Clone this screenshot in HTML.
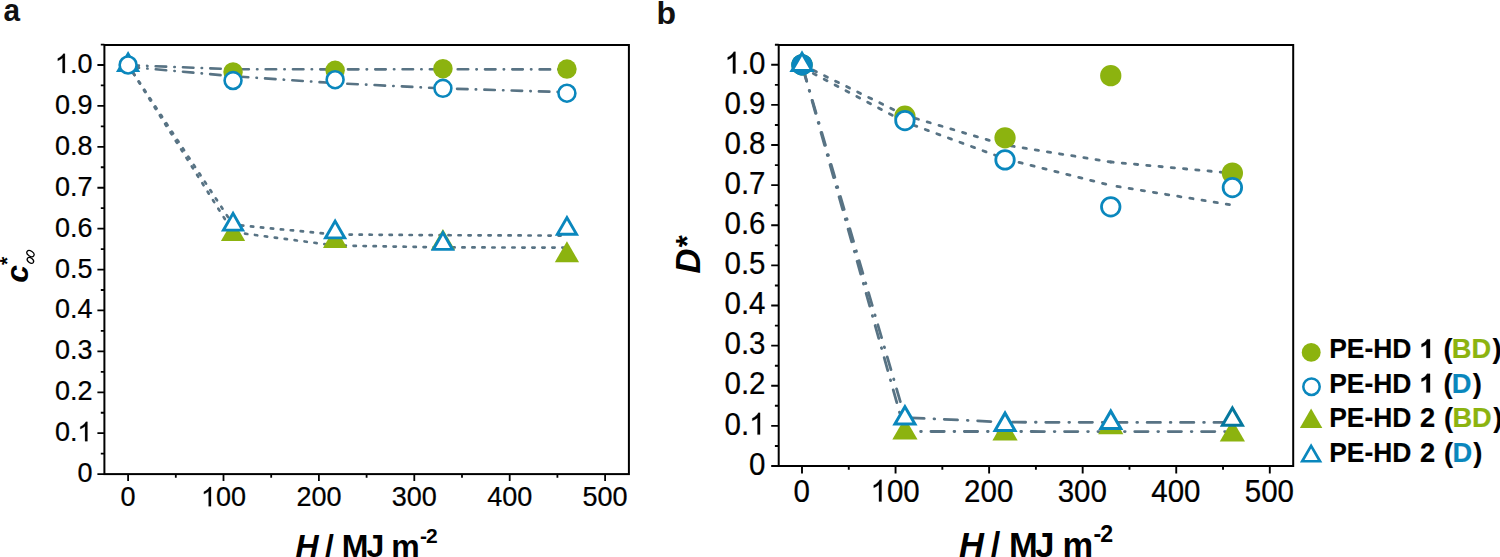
<!DOCTYPE html><html><head><meta charset="utf-8"><style>html,body{margin:0;padding:0;background:#fff;overflow:hidden}svg{display:block}</style></head><body>
<svg width="1500" height="557" viewBox="0 0 1500 557">
<rect width="1500" height="557" fill="#fff"/>
<rect x="104.4" y="45" width="524.5" height="429.1" fill="none" stroke="#000" stroke-width="2"/>
<path d="M128.1 474.1V481.1M175.8 474.1V477.7M223.5 474.1V481.1M271.2 474.1V477.7M318.9 474.1V481.1M366.6 474.1V477.7M414.3 474.1V481.1M462 474.1V477.7M509.7 474.1V481.1M557.4 474.1V477.7M605.1 474.1V481.1M104.4 474.1H97.4M104.4 453.65H100.8M104.4 433.19H97.4M104.4 412.74H100.8M104.4 392.28H97.4M104.4 371.83H100.8M104.4 351.37H97.4M104.4 330.91H100.8M104.4 310.46H97.4M104.4 290H100.8M104.4 269.55H97.4M104.4 249.09H100.8M104.4 228.64H97.4M104.4 208.19H100.8M104.4 187.73H97.4M104.4 167.27H100.8M104.4 146.82H97.4M104.4 126.36H100.8M104.4 105.91H97.4M104.4 85.45H100.8M104.4 65H97.4M104.4 44.54H100.8" stroke="#000" stroke-width="1.8" fill="none"/>
<g transform="translate(92.4 482.1) scale(1 1.04)" font-family="Liberation Sans" font-size="27" font-weight="normal" fill="#000" stroke="#000" stroke-width="0.24" stroke-linejoin="round"><text x="-15.02" y="0">0</text></g>
<g transform="translate(92.4 441.19) scale(1 1.04)" font-family="Liberation Sans" font-size="27" font-weight="normal" fill="#000" stroke="#000" stroke-width="0.24" stroke-linejoin="round"><text x="-37.53" y="0">0. </text><path d="M-4.96 0L-7.33 0L-7.33 -14.47Q-8.19 -13.69 -9.58 -12.91Q-10.98 -12.13 -12.1 -11.74L-12.1 -13.93Q-10.11 -14.83 -8.62 -16.1Q-7.13 -17.38 -6.51 -18.58L-4.96 -18.58Z"/></g>
<g transform="translate(92.4 400.28) scale(1 1.04)" font-family="Liberation Sans" font-size="27" font-weight="normal" fill="#000" stroke="#000" stroke-width="0.24" stroke-linejoin="round"><text x="-37.53" y="0">0.2</text></g>
<g transform="translate(92.4 359.37) scale(1 1.04)" font-family="Liberation Sans" font-size="27" font-weight="normal" fill="#000" stroke="#000" stroke-width="0.24" stroke-linejoin="round"><text x="-37.53" y="0">0.3</text></g>
<g transform="translate(92.4 318.46) scale(1 1.04)" font-family="Liberation Sans" font-size="27" font-weight="normal" fill="#000" stroke="#000" stroke-width="0.24" stroke-linejoin="round"><text x="-37.53" y="0">0.4</text></g>
<g transform="translate(92.4 277.55) scale(1 1.04)" font-family="Liberation Sans" font-size="27" font-weight="normal" fill="#000" stroke="#000" stroke-width="0.24" stroke-linejoin="round"><text x="-37.53" y="0">0.5</text></g>
<g transform="translate(92.4 236.64) scale(1 1.04)" font-family="Liberation Sans" font-size="27" font-weight="normal" fill="#000" stroke="#000" stroke-width="0.24" stroke-linejoin="round"><text x="-37.53" y="0">0.6</text></g>
<g transform="translate(92.4 195.73) scale(1 1.04)" font-family="Liberation Sans" font-size="27" font-weight="normal" fill="#000" stroke="#000" stroke-width="0.24" stroke-linejoin="round"><text x="-37.53" y="0">0.7</text></g>
<g transform="translate(92.4 154.82) scale(1 1.04)" font-family="Liberation Sans" font-size="27" font-weight="normal" fill="#000" stroke="#000" stroke-width="0.24" stroke-linejoin="round"><text x="-37.53" y="0">0.8</text></g>
<g transform="translate(92.4 113.91) scale(1 1.04)" font-family="Liberation Sans" font-size="27" font-weight="normal" fill="#000" stroke="#000" stroke-width="0.24" stroke-linejoin="round"><text x="-37.53" y="0">0.9</text></g>
<g transform="translate(92.4 73) scale(1 1.04)" font-family="Liberation Sans" font-size="27" font-weight="normal" fill="#000" stroke="#000" stroke-width="0.24" stroke-linejoin="round"><text x="-37.53" y="0"> .0</text><path d="M-27.47 0L-29.85 0L-29.85 -14.47Q-30.7 -13.69 -32.1 -12.91Q-33.5 -12.13 -34.62 -11.74L-34.62 -13.93Q-32.63 -14.83 -31.14 -16.1Q-29.65 -17.38 -29.03 -18.58L-27.47 -18.58Z"/></g>
<g transform="translate(128.1 506.3) scale(1 1.04)" font-family="Liberation Sans" font-size="27" font-weight="normal" fill="#000" stroke="#000" stroke-width="0.24" stroke-linejoin="round"><text x="-7.51" y="0">0</text></g>
<g transform="translate(223.5 506.3) scale(1 1.04)" font-family="Liberation Sans" font-size="27" font-weight="normal" fill="#000" stroke="#000" stroke-width="0.24" stroke-linejoin="round"><text x="-22.52" y="0"> 00</text><path d="M-12.47 0L-14.84 0L-14.84 -14.47Q-15.7 -13.69 -17.09 -12.91Q-18.49 -12.13 -19.61 -11.74L-19.61 -13.93Q-17.62 -14.83 -16.13 -16.1Q-14.64 -17.38 -14.02 -18.58L-12.47 -18.58Z"/></g>
<g transform="translate(318.9 506.3) scale(1 1.04)" font-family="Liberation Sans" font-size="27" font-weight="normal" fill="#000" stroke="#000" stroke-width="0.24" stroke-linejoin="round"><text x="-22.52" y="0">200</text></g>
<g transform="translate(414.3 506.3) scale(1 1.04)" font-family="Liberation Sans" font-size="27" font-weight="normal" fill="#000" stroke="#000" stroke-width="0.24" stroke-linejoin="round"><text x="-22.52" y="0">300</text></g>
<g transform="translate(509.7 506.3) scale(1 1.04)" font-family="Liberation Sans" font-size="27" font-weight="normal" fill="#000" stroke="#000" stroke-width="0.24" stroke-linejoin="round"><text x="-22.52" y="0">400</text></g>
<g transform="translate(605.1 506.3) scale(1 1.04)" font-family="Liberation Sans" font-size="27" font-weight="normal" fill="#000" stroke="#000" stroke-width="0.24" stroke-linejoin="round"><text x="-22.52" y="0">500</text></g>
<path d="M128.1 65.2L233.04 69.2" fill="none" stroke="#587384" stroke-width="2.6" stroke-dasharray="10.5 8.2 0.4 8.2" stroke-dashoffset="27" stroke-linecap="round" stroke-linejoin="round"/>
<path d="M233.04 69.2L335.12 69.35" fill="none" stroke="#587384" stroke-width="2.6" stroke-dasharray="10.5 8.2 0.4 8.2" stroke-dashoffset="21.99" stroke-linecap="round" stroke-linejoin="round"/>
<path d="M335.12 69.35L442.92 69.3" fill="none" stroke="#587384" stroke-width="2.6" stroke-dasharray="10.5 8.2 0.4 8.2" stroke-dashoffset="14.47" stroke-linecap="round" stroke-linejoin="round"/>
<path d="M442.92 69.3L566.94 69.4" fill="none" stroke="#587384" stroke-width="2.6" stroke-dasharray="10.5 8.2 0.4 8.2" stroke-dashoffset="12.52" stroke-linecap="round" stroke-linejoin="round"/>
<path d="M128.1 66.8L233.04 76.2" fill="none" stroke="#587384" stroke-width="2.6" stroke-dasharray="10.5 8.2 0.4 8.2" stroke-dashoffset="26.83" stroke-linecap="round" stroke-linejoin="round"/>
<path d="M233.04 76.2L335.12 83.15" fill="none" stroke="#587384" stroke-width="2.6" stroke-dasharray="10.5 8.2 0.4 8.2" stroke-dashoffset="22.51" stroke-linecap="round" stroke-linejoin="round"/>
<path d="M335.12 83.15L442.92 88.4" fill="none" stroke="#587384" stroke-width="2.6" stroke-dasharray="10.5 8.2 0.4 8.2" stroke-dashoffset="15.11" stroke-linecap="round" stroke-linejoin="round"/>
<path d="M442.92 88.4L566.94 92.2" fill="none" stroke="#587384" stroke-width="2.6" stroke-dasharray="10.5 8.2 0.4 8.2" stroke-dashoffset="13.15" stroke-linecap="round" stroke-linejoin="round"/>
<path d="M128.1 65L233.04 224.7" fill="none" stroke="#587384" stroke-width="2.7" stroke-dasharray="2.3 7.7" stroke-dashoffset="0.35" stroke-linecap="round" stroke-linejoin="round"/>
<path d="M233.04 224.7L335.12 234.5" fill="none" stroke="#587384" stroke-width="2.7" stroke-dasharray="2.3 7.7" stroke-dashoffset="2.01" stroke-linecap="round" stroke-linejoin="round"/>
<path d="M335.12 234.5L442.92 235.2" fill="none" stroke="#587384" stroke-width="2.7" stroke-dasharray="2.3 7.7" stroke-dashoffset="5.57" stroke-linecap="round" stroke-linejoin="round"/>
<path d="M442.92 235.2L566.94 235.6" fill="none" stroke="#587384" stroke-width="2.7" stroke-dasharray="2.3 7.7" stroke-dashoffset="4.47" stroke-linecap="round" stroke-linejoin="round"/>
<path d="M128.1 65L233.04 232.1" fill="none" stroke="#587384" stroke-width="2.7" stroke-dasharray="2.3 7.7" stroke-dashoffset="0.35" stroke-linecap="round" stroke-linejoin="round"/>
<path d="M233.04 232.1L335.12 245.5" fill="none" stroke="#587384" stroke-width="2.7" stroke-dasharray="2.3 7.7" stroke-dashoffset="7.91" stroke-linecap="round" stroke-linejoin="round"/>
<path d="M335.12 245.5L442.92 247.4" fill="none" stroke="#587384" stroke-width="2.7" stroke-dasharray="2.3 7.7" stroke-dashoffset="1.56" stroke-linecap="round" stroke-linejoin="round"/>
<path d="M442.92 247.4L566.94 247.6" fill="none" stroke="#587384" stroke-width="2.7" stroke-dasharray="2.3 7.7" stroke-dashoffset="0.57" stroke-linecap="round" stroke-linejoin="round"/>
<path d="M233.04 219.96L245.16 240.96L220.92 240.96Z" fill="#8cb30f"/>
<path d="M335.12 226.91L347.24 247.91L322.99 247.91Z" fill="#8cb30f"/>
<path d="M442.92 228.96L455.04 249.96L430.8 249.96Z" fill="#8cb30f"/>
<path d="M566.94 241.23L579.06 262.23L554.82 262.23Z" fill="#8cb30f"/>
<path d="M128.1 54.8L136.93 70.1L119.27 70.1Z" fill="#fff"/>
<path d="M128.1 51L140.22 72L115.98 72ZM128.1 56.8L135.2 69.1L121 69.1Z" fill="#0a87bd" fill-rule="evenodd"/>
<path d="M233.04 214.35L241.87 229.65L224.21 229.65Z" fill="#fff"/>
<path d="M233.04 210.55L245.16 231.55L220.92 231.55ZM233.04 216.35L240.14 228.65L225.94 228.65Z" fill="#0a87bd" fill-rule="evenodd"/>
<path d="M335.12 222.12L343.95 237.42L326.28 237.42Z" fill="#fff"/>
<path d="M335.12 218.32L347.24 239.32L322.99 239.32ZM335.12 224.12L342.22 236.42L328.02 236.42Z" fill="#0a87bd" fill-rule="evenodd"/>
<path d="M442.92 233.58L451.75 248.88L434.09 248.88Z" fill="#fff"/>
<path d="M442.92 229.78L455.04 250.78L430.8 250.78ZM442.92 235.58L450.02 247.88L435.82 247.88Z" fill="#0a87bd" fill-rule="evenodd"/>
<path d="M566.94 218.44L575.77 233.74L558.11 233.74Z" fill="#fff"/>
<path d="M566.94 214.64L579.06 235.64L554.82 235.64ZM566.94 220.44L574.04 232.74L559.84 232.74Z" fill="#0a87bd" fill-rule="evenodd"/>
<circle cx="233.04" cy="71.95" r="9.75" fill="#8cb30f"/>
<circle cx="335.12" cy="70.32" r="9.75" fill="#8cb30f"/>
<circle cx="442.92" cy="68.68" r="9.75" fill="#8cb30f"/>
<circle cx="566.94" cy="69.09" r="9.75" fill="#8cb30f"/>
<circle cx="128.1" cy="65" r="8.45" fill="#fff" stroke="#0a87bd" stroke-width="2.6"/>
<circle cx="233.04" cy="80.55" r="8.45" fill="#fff" stroke="#0a87bd" stroke-width="2.6"/>
<circle cx="335.12" cy="79.73" r="8.45" fill="#fff" stroke="#0a87bd" stroke-width="2.6"/>
<circle cx="442.92" cy="88.32" r="8.45" fill="#fff" stroke="#0a87bd" stroke-width="2.6"/>
<circle cx="566.94" cy="93.23" r="8.45" fill="#fff" stroke="#0a87bd" stroke-width="2.6"/>
<rect x="778.7" y="45" width="514.5" height="421" fill="none" stroke="#000" stroke-width="2"/>
<path d="M802 466V473.5M848.78 466V469.8M895.56 466V473.5M942.34 466V469.8M989.12 466V473.5M1035.9 466V469.8M1082.68 466V473.5M1129.46 466V469.8M1176.24 466V473.5M1223.02 466V469.8M1269.8 466V473.5M778.7 466H771.2M778.7 445.94H774.9M778.7 425.88H771.2M778.7 405.82H774.9M778.7 385.76H771.2M778.7 365.7H774.9M778.7 345.64H771.2M778.7 325.58H774.9M778.7 305.52H771.2M778.7 285.46H774.9M778.7 265.4H771.2M778.7 245.34H774.9M778.7 225.28H771.2M778.7 205.22H774.9M778.7 185.16H771.2M778.7 165.1H774.9M778.7 145.04H771.2M778.7 124.98H774.9M778.7 104.92H771.2M778.7 84.86H774.9M778.7 64.8H771.2M778.7 44.74H774.9" stroke="#000" stroke-width="1.9" fill="none"/>
<g transform="translate(765.5 474.7) scale(1 1.07)" font-family="Liberation Sans" font-size="29.5" font-weight="normal" fill="#000" stroke="#000" stroke-width="0.23" stroke-linejoin="round"><text x="-16.41" y="0">0</text></g>
<g transform="translate(765.5 434.58) scale(1 1.07)" font-family="Liberation Sans" font-size="29.5" font-weight="normal" fill="#000" stroke="#000" stroke-width="0.23" stroke-linejoin="round"><text x="-41.01" y="0">0. </text><path d="M-5.42 0L-8.01 0L-8.01 -15.81Q-8.95 -14.96 -10.47 -14.1Q-12 -13.25 -13.22 -12.82L-13.22 -15.22Q-11.05 -16.2 -9.42 -17.59Q-7.79 -18.99 -7.12 -20.3L-5.42 -20.3Z"/></g>
<g transform="translate(765.5 394.46) scale(1 1.07)" font-family="Liberation Sans" font-size="29.5" font-weight="normal" fill="#000" stroke="#000" stroke-width="0.23" stroke-linejoin="round"><text x="-41.01" y="0">0.2</text></g>
<g transform="translate(765.5 354.34) scale(1 1.07)" font-family="Liberation Sans" font-size="29.5" font-weight="normal" fill="#000" stroke="#000" stroke-width="0.23" stroke-linejoin="round"><text x="-41.01" y="0">0.3</text></g>
<g transform="translate(765.5 314.22) scale(1 1.07)" font-family="Liberation Sans" font-size="29.5" font-weight="normal" fill="#000" stroke="#000" stroke-width="0.23" stroke-linejoin="round"><text x="-41.01" y="0">0.4</text></g>
<g transform="translate(765.5 274.1) scale(1 1.07)" font-family="Liberation Sans" font-size="29.5" font-weight="normal" fill="#000" stroke="#000" stroke-width="0.23" stroke-linejoin="round"><text x="-41.01" y="0">0.5</text></g>
<g transform="translate(765.5 233.98) scale(1 1.07)" font-family="Liberation Sans" font-size="29.5" font-weight="normal" fill="#000" stroke="#000" stroke-width="0.23" stroke-linejoin="round"><text x="-41.01" y="0">0.6</text></g>
<g transform="translate(765.5 193.86) scale(1 1.07)" font-family="Liberation Sans" font-size="29.5" font-weight="normal" fill="#000" stroke="#000" stroke-width="0.23" stroke-linejoin="round"><text x="-41.01" y="0">0.7</text></g>
<g transform="translate(765.5 153.74) scale(1 1.07)" font-family="Liberation Sans" font-size="29.5" font-weight="normal" fill="#000" stroke="#000" stroke-width="0.23" stroke-linejoin="round"><text x="-41.01" y="0">0.8</text></g>
<g transform="translate(765.5 113.62) scale(1 1.07)" font-family="Liberation Sans" font-size="29.5" font-weight="normal" fill="#000" stroke="#000" stroke-width="0.23" stroke-linejoin="round"><text x="-41.01" y="0">0.9</text></g>
<g transform="translate(765.5 73.5) scale(1 1.07)" font-family="Liberation Sans" font-size="29.5" font-weight="normal" fill="#000" stroke="#000" stroke-width="0.23" stroke-linejoin="round"><text x="-41.01" y="0"> .0</text><path d="M-30.02 0L-32.61 0L-32.61 -15.81Q-33.55 -14.96 -35.07 -14.1Q-36.6 -13.25 -37.83 -12.82L-37.83 -15.22Q-35.65 -16.2 -34.02 -17.59Q-32.4 -18.99 -31.72 -20.3L-30.02 -20.3Z"/></g>
<g transform="translate(801.6 501.5) scale(1 1.07)" font-family="Liberation Sans" font-size="29.5" font-weight="normal" fill="#000" stroke="#000" stroke-width="0.23" stroke-linejoin="round"><text x="-8.2" y="0">0</text></g>
<g transform="translate(895.16 501.5) scale(1 1.07)" font-family="Liberation Sans" font-size="29.5" font-weight="normal" fill="#000" stroke="#000" stroke-width="0.23" stroke-linejoin="round"><text x="-24.61" y="0"> 00</text><path d="M-13.62 0L-16.21 0L-16.21 -15.81Q-17.15 -14.96 -18.68 -14.1Q-20.2 -13.25 -21.43 -12.82L-21.43 -15.22Q-19.25 -16.2 -17.62 -17.59Q-16 -18.99 -15.32 -20.3L-13.62 -20.3Z"/></g>
<g transform="translate(988.72 501.5) scale(1 1.07)" font-family="Liberation Sans" font-size="29.5" font-weight="normal" fill="#000" stroke="#000" stroke-width="0.23" stroke-linejoin="round"><text x="-24.61" y="0">200</text></g>
<g transform="translate(1082.28 501.5) scale(1 1.07)" font-family="Liberation Sans" font-size="29.5" font-weight="normal" fill="#000" stroke="#000" stroke-width="0.23" stroke-linejoin="round"><text x="-24.61" y="0">300</text></g>
<g transform="translate(1175.84 501.5) scale(1 1.07)" font-family="Liberation Sans" font-size="29.5" font-weight="normal" fill="#000" stroke="#000" stroke-width="0.23" stroke-linejoin="round"><text x="-24.61" y="0">400</text></g>
<g transform="translate(1269.4 501.5) scale(1 1.07)" font-family="Liberation Sans" font-size="29.5" font-weight="normal" fill="#000" stroke="#000" stroke-width="0.23" stroke-linejoin="round"><text x="-24.61" y="0">500</text></g>
<path d="M802 64.7L904.92 115.2" fill="none" stroke="#587384" stroke-width="2.8" stroke-dasharray="3.3 9" stroke-dashoffset="11.85" stroke-linecap="round" stroke-linejoin="round"/>
<path d="M904.92 115.2L1005.03 145" fill="none" stroke="#587384" stroke-width="2.8" stroke-dasharray="3.3 9" stroke-dashoffset="1.41" stroke-linecap="round" stroke-linejoin="round"/>
<path d="M1005.03 145L1110.75 162" fill="none" stroke="#587384" stroke-width="2.8" stroke-dasharray="3.3 9" stroke-dashoffset="6.31" stroke-linecap="round" stroke-linejoin="round"/>
<path d="M1110.75 162L1232.38 173.2" fill="none" stroke="#587384" stroke-width="2.8" stroke-dasharray="3.3 9" stroke-dashoffset="0.79" stroke-linecap="round" stroke-linejoin="round"/>
<path d="M802 67.4L904.92 122" fill="none" stroke="#587384" stroke-width="2.8" stroke-dasharray="3.3 9" stroke-dashoffset="11.8" stroke-linecap="round" stroke-linejoin="round"/>
<path d="M904.92 122L1005.03 158.9" fill="none" stroke="#587384" stroke-width="2.8" stroke-dasharray="3.3 9" stroke-dashoffset="2.91" stroke-linecap="round" stroke-linejoin="round"/>
<path d="M1005.03 158.9L1110.75 185.4" fill="none" stroke="#587384" stroke-width="2.8" stroke-dasharray="3.3 9" stroke-dashoffset="10.16" stroke-linecap="round" stroke-linejoin="round"/>
<path d="M1110.75 185.4L1232.38 205.1" fill="none" stroke="#587384" stroke-width="2.8" stroke-dasharray="3.3 9" stroke-dashoffset="6.02" stroke-linecap="round" stroke-linejoin="round"/>
<path d="M802 64.8L904.92 417.5" fill="none" stroke="#587384" stroke-width="2.8" stroke-dasharray="13.3 9.8 0.7 9.6" stroke-dashoffset="29.78" stroke-linecap="round" stroke-linejoin="round"/>
<path d="M904.92 417.5L1005.03 422.2" fill="none" stroke="#587384" stroke-width="2.8" stroke-dasharray="13.3 9.8 0.7 9.6" stroke-dashoffset="27.4" stroke-linecap="round" stroke-linejoin="round"/>
<path d="M1005.03 422.2L1110.75 422.4" fill="none" stroke="#587384" stroke-width="2.8" stroke-dasharray="13.3 9.8 0.7 9.6" stroke-dashoffset="26.08" stroke-linecap="round" stroke-linejoin="round"/>
<path d="M1110.75 422.4L1232.38 422.4" fill="none" stroke="#587384" stroke-width="2.8" stroke-dasharray="13.3 9.8 0.7 9.6" stroke-dashoffset="30.4" stroke-linecap="round" stroke-linejoin="round"/>
<path d="M802 64.8L904.92 431.5" fill="none" stroke="#587384" stroke-width="2.8" stroke-dasharray="13.3 9.8 0.7 9.6" stroke-dashoffset="29.78" stroke-linecap="round" stroke-linejoin="round"/>
<path d="M904.92 431.5L1005.03 431.5" fill="none" stroke="#587384" stroke-width="2.8" stroke-dasharray="13.3 9.8 0.7 9.6" stroke-dashoffset="7.37" stroke-linecap="round" stroke-linejoin="round"/>
<path d="M1005.03 431.5L1110.75 431.6" fill="none" stroke="#587384" stroke-width="2.8" stroke-dasharray="13.3 9.8 0.7 9.6" stroke-dashoffset="7.28" stroke-linecap="round" stroke-linejoin="round"/>
<path d="M1110.75 431.6L1232.38 431.6" fill="none" stroke="#587384" stroke-width="2.8" stroke-dasharray="13.3 9.8 0.7 9.6" stroke-dashoffset="9.4" stroke-linecap="round" stroke-linejoin="round"/>
<circle cx="802" cy="64.8" r="10.64" fill="#8cb30f"/>
<circle cx="904.92" cy="116.15" r="10.64" fill="#8cb30f"/>
<circle cx="1005.03" cy="137.82" r="10.64" fill="#8cb30f"/>
<circle cx="1110.75" cy="75.63" r="10.64" fill="#8cb30f"/>
<circle cx="1232.38" cy="173.12" r="10.64" fill="#8cb30f"/>
<circle cx="802" cy="64.8" r="9.25" fill="#fff" stroke="#0a87bd" stroke-width="2.78"/>
<circle cx="904.92" cy="120.57" r="9.25" fill="#fff" stroke="#0a87bd" stroke-width="2.78"/>
<circle cx="1005.03" cy="159.88" r="9.25" fill="#fff" stroke="#0a87bd" stroke-width="2.78"/>
<circle cx="1110.75" cy="206.82" r="9.25" fill="#fff" stroke="#0a87bd" stroke-width="2.78"/>
<circle cx="1232.38" cy="187.57" r="9.25" fill="#fff" stroke="#0a87bd" stroke-width="2.78"/>
<circle cx="802" cy="64.8" r="10.64" fill="#0a87bd"/>
<path d="M904.92 417.74L917.53 439.58L892.31 439.58Z" fill="#8cb30f"/>
<path d="M1005.03 418.54L1017.63 440.38L992.42 440.38Z" fill="#8cb30f"/>
<path d="M1110.75 412.52L1123.36 434.36L1098.14 434.36Z" fill="#8cb30f"/>
<path d="M1232.38 419.75L1244.99 441.59L1219.77 441.59Z" fill="#8cb30f"/>
<path d="M802 54.27L811.12 70.06L792.88 70.06Z" fill="#fff"/>
<path d="M802 50.24L814.61 72.08L789.39 72.08ZM802 56.27L809.39 69.06L794.61 69.06Z" fill="#0a87bd" fill-rule="evenodd"/>
<path d="M904.92 407.73L914.03 423.52L895.8 423.52Z" fill="#fff"/>
<path d="M904.92 403.7L917.53 425.54L892.31 425.54ZM904.92 409.73L912.3 422.52L897.53 422.52Z" fill="#0a87bd" fill-rule="evenodd"/>
<path d="M1005.03 414.15L1014.14 429.94L995.91 429.94Z" fill="#fff"/>
<path d="M1005.03 410.12L1017.63 431.96L992.42 431.96ZM1005.03 416.15L1012.41 428.94L997.64 428.94Z" fill="#0a87bd" fill-rule="evenodd"/>
<path d="M1110.75 412.14L1119.87 427.93L1101.63 427.93Z" fill="#fff"/>
<path d="M1110.75 408.11L1123.36 429.95L1098.14 429.95ZM1110.75 414.14L1118.13 426.93L1103.36 426.93Z" fill="#0a87bd" fill-rule="evenodd"/>
<path d="M1232.38 408.93L1241.49 424.72L1223.26 424.72Z" fill="#fff"/>
<path d="M1232.38 404.9L1244.99 426.74L1219.77 426.74ZM1232.38 410.93L1239.76 423.72L1224.99 423.72Z" fill="#05789e" fill-rule="evenodd"/>
<g font-family="Liberation Sans" font-weight="bold" font-size="32" fill="#111">
<text transform="translate(3.6 20.5) scale(0.93 1)">a</text>
<text x="656.6" y="23.6">b</text>
</g>
<g font-family="Liberation Sans" font-weight="bold" fill="#000">
<text x="295.6" y="556.5" font-size="32" font-style="italic">H</text>
<text x="325" y="556.5" font-size="32">/</text>
<text x="341.8" y="556.5" font-size="32">M</text>
<text x="366.4" y="556.5" font-size="32">J</text>
<text x="391.3" y="556.5" font-size="32">m</text>
<text x="420.1" y="543.3" font-size="21">-</text>
<text x="425.9" y="543.3" font-size="21">2</text>
</g>
<g font-family="Liberation Sans" font-weight="bold" fill="#000">
<text x="959.1" y="556.5" font-size="34.5" font-style="italic">H</text>
<text x="990.8" y="556.5" font-size="34.5">/</text>
<text x="1009" y="556.5" font-size="34.5">M</text>
<text x="1035.3" y="556.5" font-size="34.5">J</text>
<text x="1062.4" y="556.5" font-size="34.5">m</text>
<text x="1093.4" y="541.9" font-size="23.2">-</text>
<text x="1100.2" y="541.9" font-size="23.2">2</text>
</g>
<g font-family="Liberation Sans" fill="#000" transform="translate(28.3 282.3) rotate(-90)">
<text x="-0.5" y="0" font-size="32" font-weight="bold" font-style="italic">c</text>
<text x="17.3" y="-14.5" font-size="21" font-weight="bold">*</text>
</g>
<g fill="none" stroke="#000" stroke-width="1.25">
<ellipse cx="30.45" cy="253.6" rx="4.0" ry="2.55" transform="rotate(35 30.45 253.6)"/>
<ellipse cx="30.4" cy="260.4" rx="3.6" ry="2.35" transform="rotate(38 30.4 260.4)"/>
</g>
<g font-family="Liberation Sans" fill="#000" transform="translate(700.4 273.4) rotate(-90)">
<text x="0" y="0" font-size="34.5" font-weight="bold" font-style="italic">D</text>
<text x="24.9" y="-2.7" font-size="31" font-weight="bold" font-style="italic">*</text>
</g>
<circle cx="1311.2" cy="352.4" r="9.46" fill="#8cb30f"/>
<circle cx="1311.5" cy="386.7" r="8.2" fill="#fff" stroke="#0a87bd" stroke-width="2.52"/>
<path d="M1311.1 408.55L1322.32 427.98L1299.88 427.98Z" fill="#8cb30f"/>
<path d="M1311.1 446.52L1319.4 460.89L1302.8 460.89Z" fill="#fff"/>
<path d="M1311.1 443.15L1322.32 462.58L1299.88 462.58ZM1311.1 448.52L1317.67 459.89L1304.53 459.89Z" fill="#0a87bd" fill-rule="evenodd"/>
<g transform="translate(1329.22 358) scale(0.97 1)" font-family="Liberation Sans" font-size="27.25" font-weight="bold" fill="#000" stroke="#000" stroke-width="0.2" stroke-linejoin="round"><text x="0" y="0">PE-HD</text></g>
<g transform="translate(1419.29 358)" font-family="Liberation Sans" font-size="27.25" font-weight="bold" fill="#000" stroke="#000" stroke-width="0.2" stroke-linejoin="round"><text x="0" y="0"> </text><path d="M10.78 0L7.04 0L7.04 -13.49Q4.99 -11.65 2.21 -10.77L2.21 -14.02Q3.67 -14.48 5.39 -15.75Q7.11 -17.03 7.74 -18.75L10.78 -18.75Z"/></g>
<g transform="translate(1443.54 358)" font-family="Liberation Sans" font-size="27.25" font-weight="bold" fill="#000" stroke="#000" stroke-width="0.2" stroke-linejoin="round"><text x="0" y="0">(</text></g>
<g transform="translate(1451.78 358)" font-family="Liberation Sans" font-size="27.25" font-weight="bold" fill="#8cb30f" stroke="#8cb30f" stroke-width="0.2" stroke-linejoin="round"><text x="0" y="0">BD</text></g>
<g transform="translate(1492.57 358)" font-family="Liberation Sans" font-size="27.25" font-weight="bold" fill="#000" stroke="#000" stroke-width="0.2" stroke-linejoin="round"><text x="0" y="0">)</text></g>
<g transform="translate(1329.22 392.6) scale(0.97 1)" font-family="Liberation Sans" font-size="27.25" font-weight="bold" fill="#000" stroke="#000" stroke-width="0.2" stroke-linejoin="round"><text x="0" y="0">PE-HD</text></g>
<g transform="translate(1419.29 392.6)" font-family="Liberation Sans" font-size="27.25" font-weight="bold" fill="#000" stroke="#000" stroke-width="0.2" stroke-linejoin="round"><text x="0" y="0"> </text><path d="M10.78 0L7.04 0L7.04 -13.49Q4.99 -11.65 2.21 -10.77L2.21 -14.02Q3.67 -14.48 5.39 -15.75Q7.11 -17.03 7.74 -18.75L10.78 -18.75Z"/></g>
<g transform="translate(1443.54 392.6)" font-family="Liberation Sans" font-size="27.25" font-weight="bold" fill="#000" stroke="#000" stroke-width="0.2" stroke-linejoin="round"><text x="0" y="0">(</text></g>
<g transform="translate(1451.78 392.6)" font-family="Liberation Sans" font-size="27.25" font-weight="bold" fill="#0a87bd" stroke="#0a87bd" stroke-width="0.2" stroke-linejoin="round"><text x="0" y="0">D</text></g>
<g transform="translate(1472.77 392.6)" font-family="Liberation Sans" font-size="27.25" font-weight="bold" fill="#000" stroke="#000" stroke-width="0.2" stroke-linejoin="round"><text x="0" y="0">)</text></g>
<g transform="translate(1329.22 427.2) scale(0.97 1)" font-family="Liberation Sans" font-size="27.25" font-weight="bold" fill="#000" stroke="#000" stroke-width="0.2" stroke-linejoin="round"><text x="0" y="0">PE-HD</text></g>
<g transform="translate(1419.96 427.2)" font-family="Liberation Sans" font-size="27.25" font-weight="bold" fill="#000" stroke="#000" stroke-width="0.2" stroke-linejoin="round"><text x="0" y="0">2</text></g>
<g transform="translate(1443.94 427.2)" font-family="Liberation Sans" font-size="27.25" font-weight="bold" fill="#000" stroke="#000" stroke-width="0.2" stroke-linejoin="round"><text x="0" y="0">(</text></g>
<g transform="translate(1452.38 427.2)" font-family="Liberation Sans" font-size="27.25" font-weight="bold" fill="#8cb30f" stroke="#8cb30f" stroke-width="0.2" stroke-linejoin="round"><text x="0" y="0">BD</text></g>
<g transform="translate(1493.17 427.2)" font-family="Liberation Sans" font-size="27.25" font-weight="bold" fill="#000" stroke="#000" stroke-width="0.2" stroke-linejoin="round"><text x="0" y="0">)</text></g>
<g transform="translate(1329.22 461.8) scale(0.97 1)" font-family="Liberation Sans" font-size="27.25" font-weight="bold" fill="#000" stroke="#000" stroke-width="0.2" stroke-linejoin="round"><text x="0" y="0">PE-HD</text></g>
<g transform="translate(1419.96 461.8)" font-family="Liberation Sans" font-size="27.25" font-weight="bold" fill="#000" stroke="#000" stroke-width="0.2" stroke-linejoin="round"><text x="0" y="0">2</text></g>
<g transform="translate(1443.94 461.8)" font-family="Liberation Sans" font-size="27.25" font-weight="bold" fill="#000" stroke="#000" stroke-width="0.2" stroke-linejoin="round"><text x="0" y="0">(</text></g>
<g transform="translate(1452.38 461.8)" font-family="Liberation Sans" font-size="27.25" font-weight="bold" fill="#0a87bd" stroke="#0a87bd" stroke-width="0.2" stroke-linejoin="round"><text x="0" y="0">D</text></g>
<g transform="translate(1473.37 461.8)" font-family="Liberation Sans" font-size="27.25" font-weight="bold" fill="#000" stroke="#000" stroke-width="0.2" stroke-linejoin="round"><text x="0" y="0">)</text></g>
</svg></body></html>
